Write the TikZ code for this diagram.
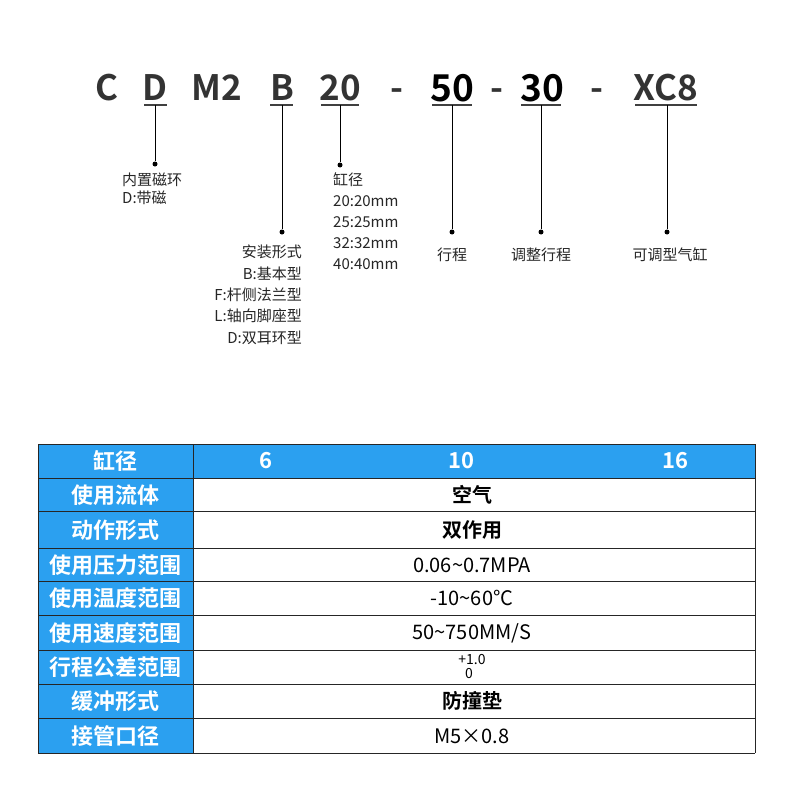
\documentclass[tikz,border=0pt]{standalone}
\usepackage{fontspec}
\setmainfont{Noto Sans CJK SC}
\newfontfamily\bfcjk{Noto Sans CJK SC Bold}
\definecolor{tblue}{RGB}{43,160,240}
\begin{document}
\begin{tikzpicture}[x=1pt,y=-1pt,
  code/.style={font=\fontsize{35}{35}\selectfont\bfcjk, text=black!80},
  codeb/.style={font=\fontsize{37}{37}\selectfont\bfcjk, text=black},
  lbl/.style={font=\fontsize{15}{18}\selectfont, text=black!85, inner sep=0},
  uline/.style={line width=1.3pt, black!75},
  conn/.style={line width=0.8pt, black},
  dot/.style={circle, fill=black, inner sep=0, minimum size=5pt},
  hdr/.style={font=\fontsize{22}{22}\selectfont\bfcjk, text=white},
  cell/.style={font=\fontsize{20}{20}\selectfont, text=black}]
\useasboundingbox (0,0) rectangle (800,800);
\fill[white] (0,0) rectangle (800,800);
% code
\node[code] (c) at (107,88) {C};
\node[code] (d) at (155,88) {D};
\node[code] (m) at (217,88) {M2};
\node[code] (b) at (282,88) {B};
\node[code] (n20) at (340,88) {20};
\node[code] (h1) at (397,95) {-};
\node[codeb] (n50) at (452,88) {50};
\node[code] (h2) at (497,95) {-};
\node[codeb] (n30) at (542,88) {30};
\node[code] (h3) at (597,95) {-};
\node[code] (xc) at (666,88) {XC8};
\draw[uline] (144,105) -- (167,105);
\draw[uline] (270,105) -- (293,105);
\draw[uline] (321,105) -- (359,105);
\draw[uline] (432,105) -- (472,105);
\draw[uline] (521,105) -- (561,105);
\draw[uline] (635,105) -- (697,105);
\coordinate (dt) at (155,105);
\coordinate (bt) at (282,105);
\coordinate (nt) at (340,105);
\coordinate (ft) at (452,105);
\coordinate (tt) at (541,105);
\coordinate (xt) at (667,105);
\node[dot] (dd) at (155,164) {};
\node[dot] (bd) at (282,232) {};
\node[dot] (nd) at (340,165) {};
\node[dot] (fd) at (452,232) {};
\node[dot] (td) at (541,232) {};
\node[dot] (xd) at (667,232) {};
\draw[conn] (dt) -- (dd);
\draw[conn] (bt) -- (bd);
\draw[conn] (nt) -- (nd);
\draw[conn] (ft) -- (fd);
\draw[conn] (tt) -- (td);
\draw[conn] (xt) -- (xd);
\node[lbl, anchor=north west, align=left] (dl) at (122,173) {内置磁环\\D:带磁};
\node[lbl, anchor=north east, align=right, font=\fontsize{15}{21.3}\selectfont] (bl) at (302,245) {安装形式\\B:基本型\\F:杆侧法兰型\\L:轴向脚座型\\D:双耳环型};
\node[lbl, anchor=north west, align=left, font=\fontsize{15}{21}\selectfont] (nl) at (333,172) {缸径\\20:20mm\\25:25mm\\32:32mm\\40:40mm};
\node[lbl] (fl) at (452,255) {行程};
\node[lbl] (tl) at (541,255) {调整行程};
\node[lbl] (xl) at (670,255) {可调型气缸};
% table
\fill[tblue] (38,444) rectangle (755,478);
\fill[tblue] (38,478) rectangle (193,753);
\foreach \y in {444,478,511,548,581,615,650,684,718,753} \draw[line width=0.8pt, black!85] (38,\y) -- (755,\y);
\draw[line width=0.8pt, black!85] (38,444) -- (38,753) (193,444) -- (193,753) (755,444) -- (755,753);
\node[hdr] (h0) at (115,461) {缸径};
\node[hdr] (h6) at (266,461) {6};
\node[hdr] (h10) at (461,461) {10};
\node[hdr] (h16) at (675,461) {16};
\node[hdr] (r1) at (115,495) {使用流体};
\node[hdr] (r2) at (115,530) {动作形式};
\node[hdr] (r3) at (115,565) {使用压力范围};
\node[hdr] (r4) at (115,598) {使用温度范围};
\node[hdr] (r5) at (115,633) {使用速度范围};
\node[hdr] (r6) at (115,667) {行程公差范围};
\node[hdr] (r7) at (115,701) {缓冲形式};
\node[hdr] (r8) at (115,736) {接管口径};
\node[cell, font=\fontsize{20}{20}\selectfont\bfcjk] (v1) at (472,495) {空气};
\node[cell, font=\fontsize{20}{20}\selectfont\bfcjk] (v2) at (472,530) {双作用};
\node[cell] (v3) at (472,565) {0.06\textasciitilde0.7MPA};
\node[cell] (v4) at (472,598) {-10\textasciitilde60°C};
\node[cell] (v5) at (472,633) {50\textasciitilde750MM/S};
\node[cell, font=\fontsize{14}{14}\selectfont] (v6a) at (472,660) {+1.0};
\node[cell, font=\fontsize{14}{14}\selectfont] (v6b) at (469,674) {0};
\node[cell, font=\fontsize{20}{20}\selectfont\bfcjk] (v7) at (472,701) {防撞垫};
\node[cell] (v8) at (472,736) {M5×0.8};
\end{tikzpicture}
\end{document}
